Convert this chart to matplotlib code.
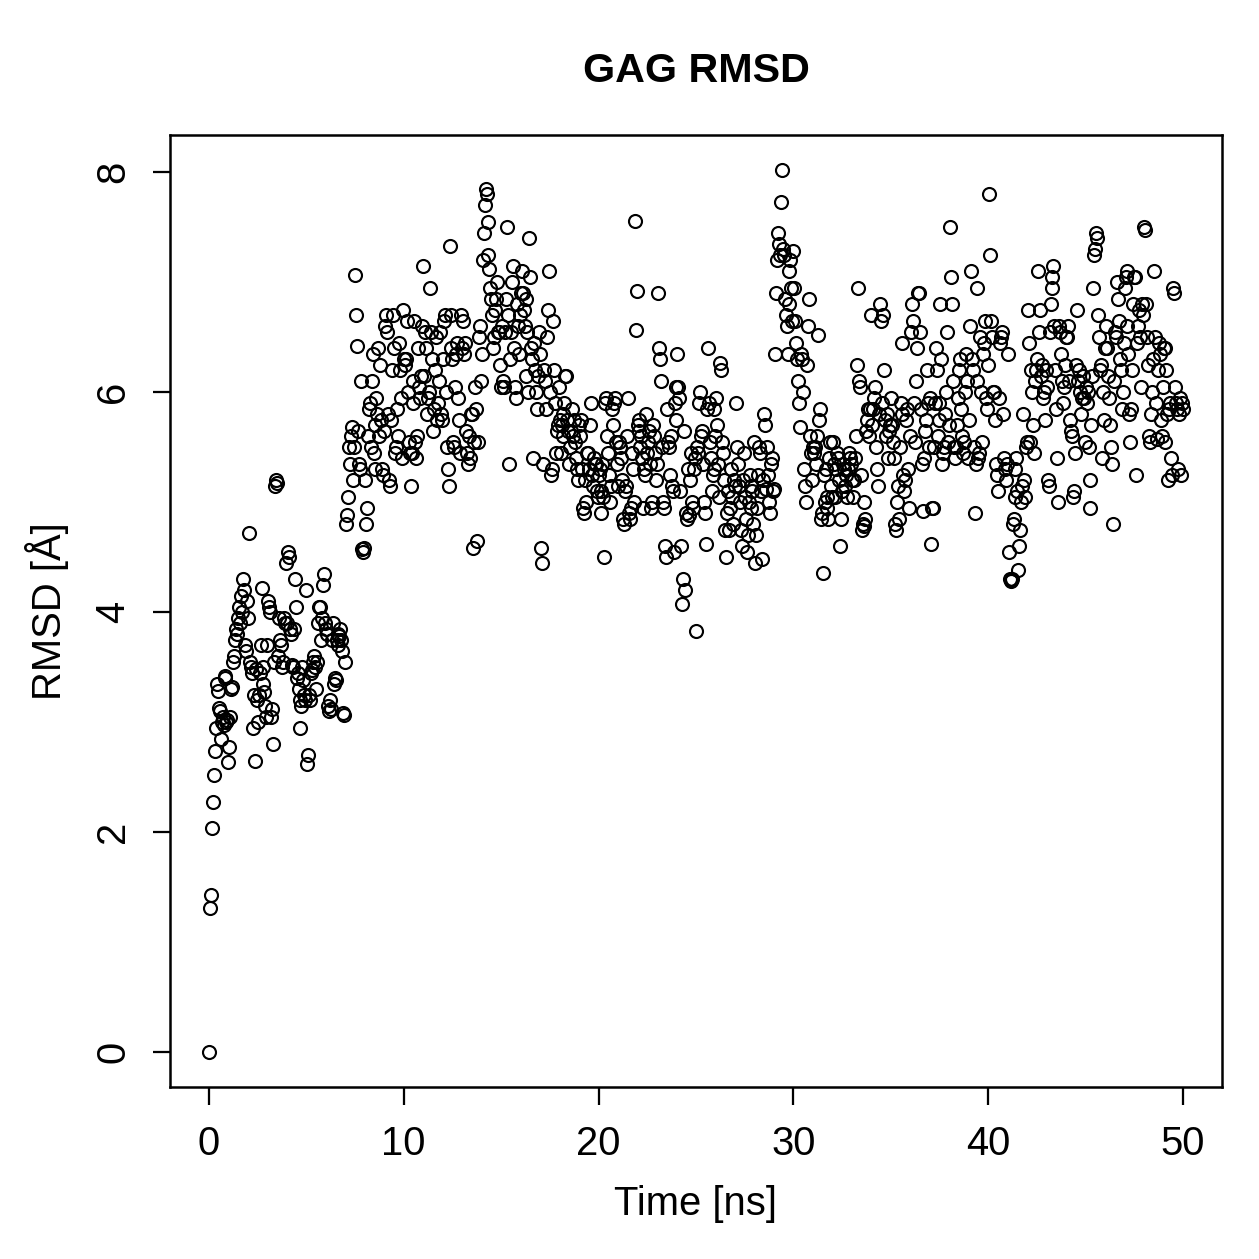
import numpy as np
import matplotlib
matplotlib.use("Agg")
import matplotlib.pyplot as plt

# RMSD values, one frame every 0.05 ns
frame_step = 0.05
rmsd_start = [0.0]
rmsd_0_10 = [
    1.31, 1.43, 2.04, 2.27, 2.52, 2.74, 2.95, 3.35, 3.28, 3.13, 3.10, 2.85, 3.00, 3.05, 2.97, 3.40, 3.42, 3.00, 3.02, 2.64,
    2.77, 3.05, 3.30, 3.32, 3.55, 3.60, 3.75, 3.85, 3.80, 3.95, 4.05, 3.90, 4.15, 4.00, 4.30, 4.20, 3.70, 3.65, 4.10, 3.95,
    4.72, 3.55, 3.50, 3.45, 2.95, 3.25, 2.65, 3.48, 3.20, 3.00, 3.25, 3.45, 3.70, 4.22, 3.50, 3.35, 3.27, 3.15, 3.05, 3.70,
    4.10, 4.05, 4.00, 3.05, 3.12, 2.80, 3.55, 5.15, 5.20, 5.17, 3.60, 3.95, 3.75, 3.70, 3.50, 3.55, 3.95, 3.90, 4.45, 3.90,
    4.55, 4.50, 3.85, 3.80, 3.52, 3.50, 3.85, 4.30, 4.05, 3.40, 3.45, 3.30, 3.20, 2.95, 3.15, 3.50, 3.38, 3.25, 3.20, 4.20,
    2.62, 2.70, 3.25, 3.20, 3.45, 3.47, 3.55, 3.60, 3.50, 3.30, 3.55, 3.90, 4.05, 4.05, 3.75, 3.95, 4.25, 4.35, 3.90, 3.85,
    3.80, 3.15, 3.10, 3.20, 3.12, 3.75, 3.90, 3.35, 3.40, 3.38, 3.75, 3.80, 3.70, 3.78, 3.85, 3.75, 3.65, 3.08, 3.06, 3.55,
    4.80, 4.88, 5.05, 5.50, 5.35, 5.60, 5.68, 5.20, 5.50, 7.07, 6.70, 6.42, 5.65, 5.35, 5.30, 6.10, 4.57, 4.55, 4.58, 5.20,
    4.80, 4.95, 5.60, 5.85, 5.90, 5.50, 6.10, 6.35, 5.45, 5.30, 5.70, 5.95, 5.80, 6.40, 5.60, 6.25, 5.75, 5.30, 5.25, 5.65,
    6.60, 6.70, 6.55, 5.80, 5.20, 5.15, 5.75, 6.20, 6.70, 6.40, 5.45, 5.50, 5.85, 5.60, 6.45, 6.20, 5.95, 5.40, 6.75, 6.30,
]
rmsd_10_20 = [
    6.25, 6.30, 6.65, 6.00, 5.55, 5.45, 5.15, 5.45, 5.90, 6.10, 6.65, 5.55, 5.40, 5.60, 6.40, 6.05, 5.95, 6.15, 6.60, 7.15,
    6.15, 6.55, 6.40, 5.80, 5.95, 6.00, 6.95, 6.55, 6.30, 5.65, 5.85, 6.20, 6.50, 5.75, 5.90, 6.10, 6.55, 5.80, 5.75, 6.30,
    6.65, 6.70, 6.00, 5.50, 5.30, 5.15, 7.33, 6.70, 6.40, 6.30, 5.55, 5.50, 6.05, 6.35, 6.45, 5.95, 5.75, 5.45, 6.70, 6.40,
    6.65, 6.35, 6.45, 5.65, 5.45, 5.35, 5.60, 5.40, 5.80, 5.80, 4.58, 5.55, 6.05, 5.85, 4.65, 5.55, 6.50, 6.60, 6.10, 6.35,
    7.20, 7.45, 7.70, 7.85, 7.80, 7.55, 7.25, 7.12, 6.95, 6.85, 6.70, 6.40, 6.50, 6.75, 6.85, 7.00, 6.55, 6.55, 6.25, 6.05,
    6.60, 6.10, 6.05, 6.55, 6.85, 7.50, 6.70, 5.35, 6.30, 6.55, 7.00, 7.15, 6.40, 6.05, 5.95, 6.80, 6.60, 6.35, 6.70, 6.90,
    7.10, 6.90, 6.75, 6.60, 6.15, 6.85, 6.55, 6.00, 7.40, 7.05, 6.40, 6.30, 5.40, 6.45, 6.20, 6.00, 5.85, 6.15, 6.55, 6.35,
    4.58, 4.45, 5.35, 6.20, 6.10, 5.85, 6.50, 6.75, 7.10, 6.00, 5.25, 5.30, 6.65, 6.20, 5.90, 5.45, 5.65, 5.70, 6.05, 5.75,
    5.45, 5.70, 5.60, 5.80, 5.90, 6.15, 6.15, 5.75, 5.65, 5.35, 5.50, 5.65, 5.85, 5.60, 5.75, 5.55, 5.40, 5.30, 5.20, 5.70,
    5.60, 5.75, 5.30, 4.95, 4.90, 5.20, 5.00, 5.45, 5.45, 5.30, 5.70, 5.90, 5.25, 5.15, 5.40, 5.35, 5.35, 5.10, 5.05, 5.25,
]
rmsd_20_30 = [
    5.30, 5.10, 4.90, 5.35, 5.05, 4.50, 5.90, 5.95, 5.60, 5.45, 5.25, 5.00, 5.15, 5.85, 5.70, 5.90, 5.95, 5.55, 5.35, 5.15,
    5.55, 5.50, 5.40, 5.20, 4.85, 4.80, 5.10, 5.15, 5.60, 5.95, 4.90, 4.85, 4.95, 5.45, 5.30, 5.00, 7.56, 6.57, 6.92, 5.70,
    5.75, 5.65, 5.50, 5.60, 5.40, 4.95, 5.30, 5.25, 5.80, 5.45, 5.55, 5.65, 5.35, 4.95, 5.00, 5.70, 5.60, 5.45, 5.20, 5.35,
    6.90, 6.40, 6.30, 6.10, 5.50, 5.00, 4.95, 4.60, 4.50, 5.85, 5.55, 5.50, 5.25, 5.60, 5.15, 5.10, 4.55, 5.90, 6.05, 5.75,
    6.35, 6.05, 5.95, 5.10, 4.60, 4.07, 4.30, 5.65, 4.20, 4.90, 4.85, 5.30, 4.88, 5.20, 5.45, 5.00, 4.95, 5.30, 5.40, 3.83,
    5.50, 5.45, 5.90, 6.00, 5.60, 5.65, 5.35, 5.00, 4.90, 4.62, 5.85, 6.40, 5.90, 5.55, 5.40, 5.10, 5.25, 5.30, 5.85, 5.60,
    5.95, 5.70, 5.35, 5.05, 6.27, 6.20, 5.55, 5.45, 5.20, 4.75, 4.50, 4.90, 5.10, 4.75, 4.95, 5.30, 5.05, 4.80, 5.20, 5.15,
    5.90, 5.50, 5.35, 5.15, 5.00, 4.75, 4.60, 5.20, 5.45, 5.05, 4.85, 4.55, 4.70, 5.00, 5.25, 5.15, 4.95, 5.10, 4.80, 5.55,
    4.45, 4.70, 4.95, 5.25, 5.50, 5.45, 5.10, 4.48, 5.20, 5.80, 5.70, 5.12, 5.50, 5.25, 5.00, 4.90, 5.35, 5.40, 5.10, 5.12,
    6.35, 6.90, 7.20, 7.45, 7.35, 7.25, 7.73, 8.02, 7.30, 7.25, 6.85, 6.70, 6.60, 6.35, 6.80, 7.10, 7.20, 6.95, 6.65, 7.28,
]
rmsd_30_40 = [
    6.95, 6.65, 6.45, 6.30, 6.10, 5.90, 5.68, 6.35, 6.30, 6.00, 5.30, 5.15, 5.00, 6.25, 6.60, 6.85, 5.60, 5.45, 5.20, 5.50,
    5.45, 5.50, 5.35, 5.60, 6.52, 5.75, 5.85, 4.85, 4.90, 4.36, 5.25, 5.00, 5.30, 5.05, 4.95, 4.85, 5.40, 5.55, 5.15, 5.05,
    5.55, 5.35, 5.05, 5.30, 5.45, 5.40, 5.20, 4.60, 4.85, 5.10, 5.35, 5.30, 5.15, 5.25, 5.05, 5.30, 5.45, 5.40, 5.35, 5.20,
    5.05, 5.20, 5.40, 5.60, 6.25, 6.95, 6.10, 6.05, 5.25, 4.75, 4.80, 5.00, 4.78, 4.85, 5.65, 5.75, 5.85, 5.60, 5.85, 6.70,
    5.70, 5.85, 5.95, 6.05, 5.50, 5.30, 5.15, 5.80, 6.80, 6.65, 5.90, 6.70, 6.20, 5.75, 5.60, 5.80, 5.40, 5.65, 5.70, 5.95,
    5.70, 5.55, 5.40, 4.80, 4.75, 5.00, 5.15, 4.85, 5.50, 5.90, 5.80, 6.45, 5.25, 5.10, 5.20, 5.75, 5.85, 5.30, 4.95, 5.60,
    6.55, 6.80, 6.65, 5.90, 5.55, 6.10, 6.40, 6.90, 6.90, 6.55, 5.85, 5.35, 4.92, 5.40, 5.65, 5.75, 6.20, 5.90, 5.50, 5.95,
    4.62, 4.95, 4.95, 5.50, 5.90, 6.40, 6.20, 5.60, 5.75, 5.90, 6.80, 6.30, 5.35, 5.45, 5.50, 5.80, 6.00, 6.55, 5.55, 5.70,
    7.50, 7.05, 6.80, 6.10, 5.50, 5.40, 5.50, 5.70, 5.95, 6.20, 6.30, 5.85, 5.60, 5.45, 5.55, 6.00, 6.35, 6.10, 5.40, 5.75,
    6.60, 7.10, 6.30, 6.20, 5.50, 4.90, 5.35, 6.95, 6.10, 5.40, 5.45, 6.50, 6.00, 5.55, 6.35, 6.45, 6.65, 5.95, 5.85, 6.25,
]
rmsd_40_50 = [
    7.80, 7.25, 6.65, 6.50, 6.00, 6.00, 5.75, 5.35, 5.25, 5.10, 5.95, 6.45, 6.50, 6.55, 5.80, 5.40, 5.30, 5.20, 5.35, 6.35,
    4.55, 4.30, 4.28, 4.30, 4.80, 4.85, 5.05, 5.30, 5.40, 5.10, 4.38, 4.60, 4.75, 5.00, 5.15, 5.80, 5.20, 5.05, 5.50, 5.55,
    6.75, 6.45, 5.55, 6.20, 6.00, 5.70, 5.45, 6.10, 6.20, 6.30, 7.10, 6.55, 6.75, 6.15, 6.25, 5.95, 6.00, 5.75, 6.20, 6.05,
    5.20, 5.15, 6.55, 6.80, 6.95, 7.05, 7.15, 6.60, 6.20, 5.85, 5.40, 5.00, 6.60, 6.55, 6.35, 6.10, 5.90, 6.05, 6.25, 6.50,
    6.50, 6.60, 6.10, 5.75, 5.65, 5.60, 5.05, 5.10, 5.45, 6.25, 6.75, 6.10, 6.20, 6.00, 5.80, 5.95, 6.15, 5.95, 5.55, 6.05,
    5.90, 6.00, 5.50, 5.20, 4.95, 5.70, 6.15, 6.95, 7.25, 7.30, 7.45, 7.40, 6.70, 6.50, 6.20, 6.25, 5.40, 6.00, 5.75, 6.40,
    6.60, 6.40, 6.15, 5.95, 5.70, 5.50, 5.35, 4.80, 6.10, 6.55, 6.50, 7.00, 6.85, 6.65, 6.30, 6.20, 5.85, 6.00, 6.45, 6.95,
    7.05, 7.10, 6.60, 6.35, 5.80, 5.55, 5.85, 6.20, 6.80, 7.05, 7.05, 5.25, 6.45, 6.60, 6.75, 6.50, 6.05, 6.80, 6.70, 7.50,
    7.48, 6.80, 6.50, 6.25, 5.60, 5.55, 5.80, 6.00, 6.30, 7.10, 6.50, 5.90, 5.57, 6.20, 6.45, 6.35, 5.75, 5.60, 6.05, 6.40,
    5.55, 6.40, 6.20, 5.80, 5.20, 5.85, 5.90, 5.40, 5.25, 6.95, 6.90, 6.05, 5.90, 5.85, 5.30, 5.80, 5.95, 5.25, 5.90, 5.85,
]

rmsd = np.array(rmsd_start + rmsd_0_10 + rmsd_10_20 + rmsd_20_30 + rmsd_30_40 + rmsd_40_50)
time_ns = np.arange(len(rmsd)) * frame_step

plt.rcParams['font.family'] = ['Liberation Sans', 'DejaVu Sans']
plt.rcParams['font.size'] = 16

fig = plt.figure(figsize=(1259 / 180, 1259 / 180), dpi=180)
ax = fig.add_axes([0.135, 0.1366, 0.8356, 0.7562])

ax.plot(time_ns, rmsd, linestyle='none', marker='o', markersize=5.2,
        markerfacecolor='none', markeredgecolor='black', markeredgewidth=0.85)

ax.set_xlim(-2, 52)
ax.set_ylim(-0.32, 8.34)
ax.set_xticks([0, 10, 20, 30, 40, 50])
ax.set_yticks([0, 2, 4, 6, 8])
ax.tick_params(direction='out', length=7, width=0.9, pad=8, labelsize=16)
for lab in ax.get_yticklabels():
    lab.set_rotation(90)
    lab.set_va('center')
for side in ax.spines.values():
    side.set_linewidth(1.0)

ax.set_xlabel('Time [ns]', fontsize=16, labelpad=9)
ax.set_ylabel('RMSD [Å]', fontsize=16, labelpad=10)
ax.set_title('GAG RMSD', fontsize=16.5, fontweight='bold', pad=21)

fig.savefig('out.png', dpi=180)
